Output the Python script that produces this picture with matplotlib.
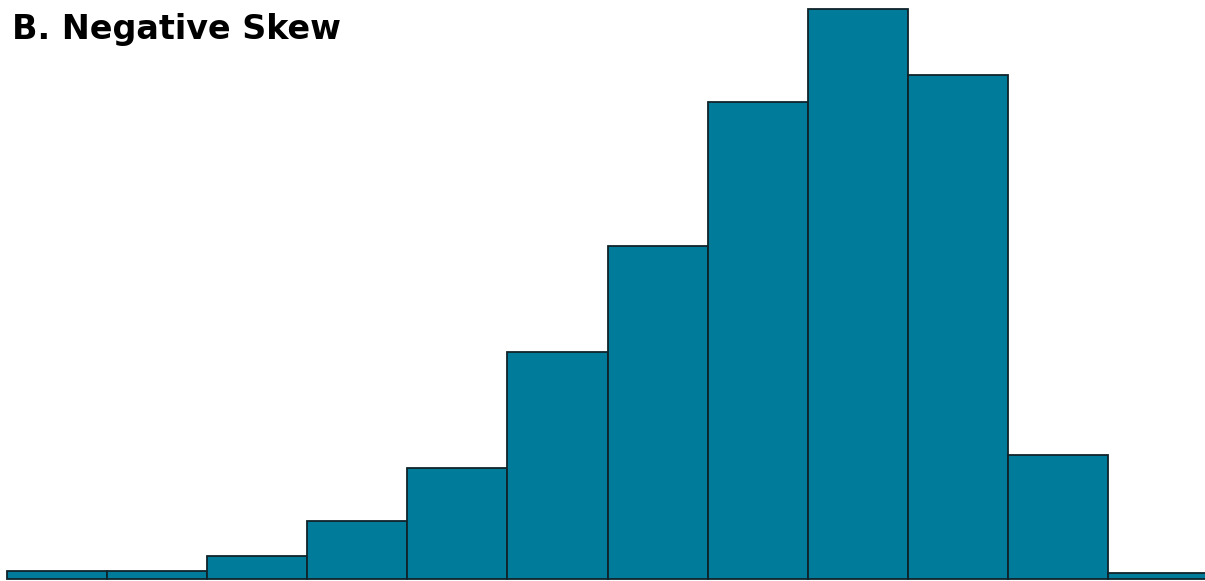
import numpy as np
import matplotlib
matplotlib.use("Agg")
import matplotlib.pyplot as plt

# bin index and bar heights (arbitrary units)
bins = np.arange(12)
freq = [8, 8, 23, 58, 111, 227, 333, 477, 570, 504, 124, 6]
title = "B. Negative Skew"

fig = plt.figure(figsize=(12.05, 5.81), dpi=100)
ax = fig.add_axes([0, 0, 1, 1])
ax.bar(bins, freq, width=1.0, align="edge", color="#007b99",
       edgecolor="#10232a", linewidth=1.3)

ax.set_xlim(-7 / 100.1, (1205 - 7) / 100.1)
ax.set_ylim(-2, 579)
ax.axis("off")

fig.text(12 / 1205, 1 - 38.5 / 581, title, ha="left", va="baseline",
         fontsize=24, fontweight="bold", family="DejaVu Sans")

fig.savefig("out.png", dpi=100)
